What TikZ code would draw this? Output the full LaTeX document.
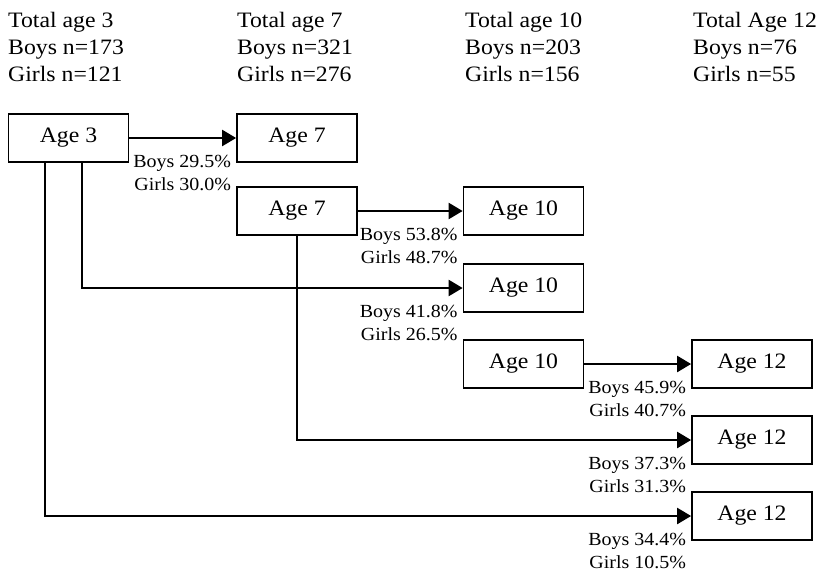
\documentclass[tikz,border=0pt]{standalone}
\usepackage{fontspec}
\setmainfont[FakeStretch=1.08]{Liberation Serif}
\usetikzlibrary{arrows.meta,positioning}
\tikzset{
  agebox/.style={draw,line width=1.7pt,minimum width=120pt,minimum height=48pt,
                 inner sep=0pt,font=\fontsize{22}{26}\selectfont},
  total/.style={anchor=north west,align=left,inner sep=0pt,font=\fontsize{22}{27}\selectfont},
  pct/.style={anchor=north east,align=right,inner sep=0pt,font=\fontsize{18.5}{23}\selectfont},
  fl/.style={-{Triangle[length=14pt,width=16pt]},line width=2.2pt}
}

\begin{document}
\begin{tikzpicture}[x=1pt,y=-1pt]
  \useasboundingbox (0,0) rectangle (824,572);
  % column totals
  \node[total] (t3) at (8,12.5) {Total age 3\\Boys n=173\\Girls n=121};
  \node[total] (t7) at (237,12.5) {Total age 7\\Boys n=321\\Girls n=276};
  \node[total] (t10) at (465,12.5) {Total age 10\\Boys n=203\\Girls n=156};
  \node[total] (t12) at (693,12.5) {Total Age 12\\Boys n=76\\Girls n=55};
  % boxes
  \node[agebox] (a3) at (68.5,138) {Age 3};
  \node[agebox] (a7a) at (297,138) {Age 7};
  \node[agebox] (a7b) at (297,211) {Age 7};
  \node[agebox] (a10a) at (523.5,211) {Age 10};
  \node[agebox] (a10b) at (523.5,288) {Age 10};
  \node[agebox] (a10c) at (523.5,364) {Age 10};
  \node[agebox] (a12a) at (752,364) {Age 12};
  \node[agebox] (a12b) at (752,440) {Age 12};
  \node[agebox] (a12c) at (752,516) {Age 12};
  % transitions
  \draw[fl] (a3) -- (a7a);
  \draw[fl] (a7b) -- (a10a);
  \draw[fl] ([xshift=13.5pt]a3.south) |- (a10b.west);
  \draw[fl] (a10c) -- (a12a);
  \draw[fl] (a7b.south) |- (a12b.west);
  \draw[fl] ([xshift=-23.5pt]a3.south) |- (a12c.west);
  % percentages
  \node[pct] (p1) at ([xshift=-5pt,yshift=-17pt]a7a.west) {Boys 29.5\%\\Girls 30.0\%};
  \node[pct] (p2) at ([xshift=-5pt,yshift=-17pt]a10a.west) {Boys 53.8\%\\Girls 48.7\%};
  \node[pct] (p3) at ([xshift=-5pt,yshift=-17pt]a10b.west) {Boys 41.8\%\\Girls 26.5\%};
  \node[pct] (p4) at ([xshift=-5pt,yshift=-17pt]a12a.west) {Boys 45.9\%\\Girls 40.7\%};
  \node[pct] (p5) at ([xshift=-5pt,yshift=-17pt]a12b.west) {Boys 37.3\%\\Girls 31.3\%};
  \node[pct] (p6) at ([xshift=-5pt,yshift=-17pt]a12c.west) {Boys 34.4\%\\Girls 10.5\%};
\end{tikzpicture}
\end{document}
